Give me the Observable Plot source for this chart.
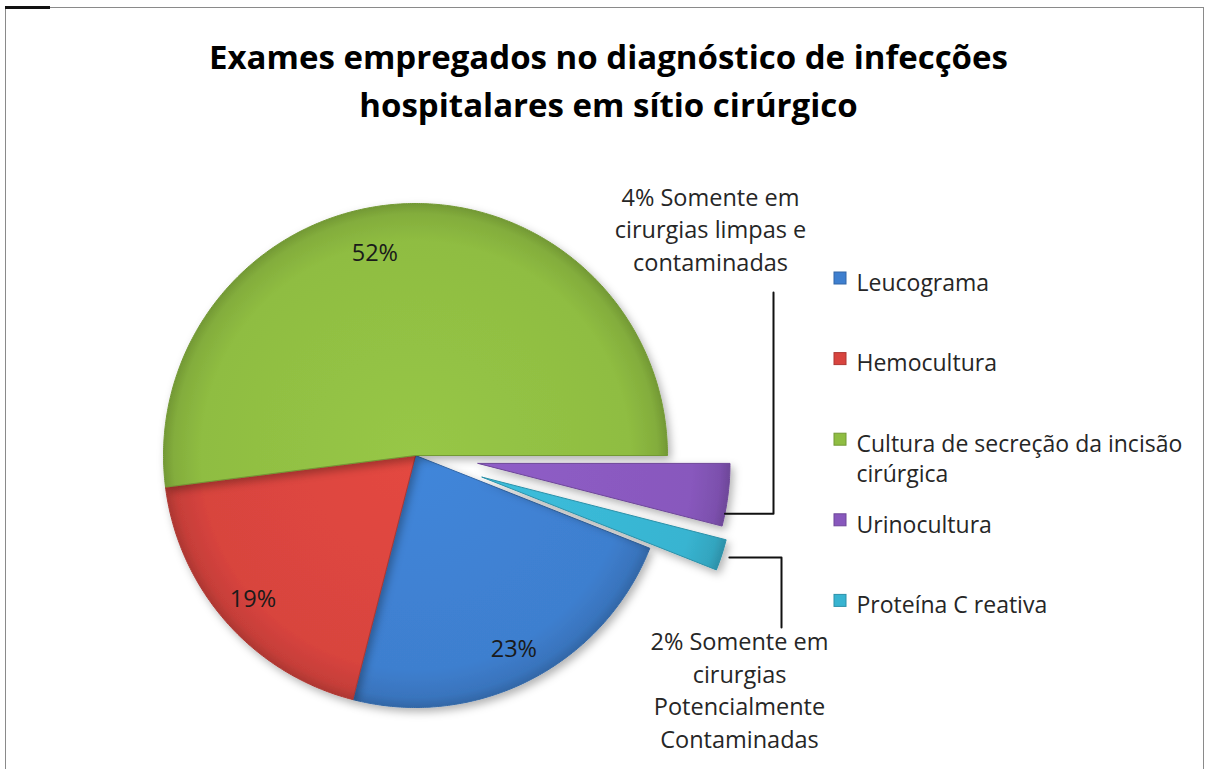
<!DOCTYPE html>
<html>
<head>
<meta charset="utf-8">
<script src="https://cdn.jsdelivr.net/npm/d3@7"></script>
<script src="https://cdn.jsdelivr.net/npm/@observablehq/plot@0.6"></script>
<style>
  body { margin: 0; background: #fff; }
  #wrap { position: relative; width: 1209px; height: 769px; overflow: hidden; font-family: "Open Sans", sans-serif; }
  #frame { position: absolute; left: 5px; top: 7px; width: 1197px; height: 800px; border: 1.5px solid #8a8a8a; pointer-events: none; }
  #tick { position: absolute; left: 5px; top: 6px; width: 45px; height: 3px; background: #111; pointer-events: none; }
</style>
</head>
<body>
<div id="wrap"><div id="frame"></div><div id="tick"></div></div>
<script>
// ---------------- data ----------------
const categories = ["Leucograma", "Hemocultura", "Cultura de secreção da incisão cirúrgica", "Urinocultura", "Proteína C reativa"];
const values = [23, 19, 52, 4, 2];
const legendLabels = ["Leucograma", "Hemocultura", "Cultura de secreção da incisão\ncirúrgica", "Urinocultura", "Proteína C reativa"];
const sliceLabels = ["23%", "19%", "52%", "4% Somente em\ncirurgias limpas e\ncontaminadas", "2% Somente em\ncirurgias\nPotencialmente\nContaminadas"];
const colors = ["#3e7fcf", "#d8443e", "#8fbd42", "#8858bd", "#38b4d1"];
const titleLines = ["Exames empregados no diagnóstico de infecções", "hospitalares em sítio cirúrgico"];

// ---------------- layout ----------------
const W = 1209, H = 769;
const CX = 415, CY = 455, R = 252;
const firstSliceAngle = 111.6;         // degrees, clockwise from 12 o'clock
const explode = [0, 0, 0, 63, 70];      // px outward
const labelRadius = 0.86;
const legendX = 834, legendTop = 278, legendStep = 80.6, legendBox = 12;
const FONT = "'Open Sans', sans-serif";

const rad = Math.PI / 180;
const arcs = d3.pie().sort(null)
  .startAngle(firstSliceAngle * rad)
  .endAngle(firstSliceAngle * rad + 2 * Math.PI)(values);

const slices = arcs.map((a, i) => {
  const mid = (a.startAngle + a.endAngle) / 2;
  const ax = CX + explode[i] * Math.sin(mid);
  const ay = CY - explode[i] * Math.cos(mid);
  const pts = [{x: ax, y: ay}];
  const n = Math.max(8, Math.ceil((a.endAngle - a.startAngle) / (0.5 * rad)));
  for (let k = 0; k <= n; k++) {
    const t = a.startAngle + (a.endAngle - a.startAngle) * k / n;
    pts.push({x: ax + R * Math.sin(t), y: ay - R * Math.cos(t)});
  }
  pts.push({x: ax, y: ay});
  return {i, name: categories[i], ax, ay, a0: a.startAngle, a1: a.endAngle, mid, pts};
});

// inner percentage labels (big slices)
const inner = slices.filter(s => explode[s.i] === 0).map(s => ({
  i: s.i,
  text: sliceLabels[s.i],
  x: s.ax + R * labelRadius * Math.sin(s.mid),
  y: s.ay - R * labelRadius * Math.cos(s.mid) + 8
}));

// callouts for exploded slices
const sU = slices[3], sP = slices[4];
const tU = sU.a0 + 0.8 * (sU.a1 - sU.a0);
const endU = {x: sU.ax + R * Math.sin(tU), y: sU.ay - R * Math.cos(tU)};
const endP = {x: sP.ax + (R + 8) * Math.sin(sP.mid), y: sP.ay - (R + 8) * Math.cos(sP.mid)};
const leaderU = [{x: 773, y: 292}, {x: 773, y: endU.y}, {x: endU.x, y: endU.y}];
const leaderP = [{x: endP.x, y: endP.y}, {x: 781, y: endP.y}, {x: 781, y: 627}];
const callouts = [
  {text: sliceLabels[3], x: 710, y: 270},
  {text: sliceLabels[4], x: 739, y: 747}
];

const legend = categories.map((c, i) => ({
  label: legendLabels[i], color: colors[i], cy: legendTop + i * legendStep
}));

const titles = titleLines.map((t, i) => ({t, x: 608, y: 68 + i * 48}));

const darker = c => d3.color(c).darker(0.6).formatHex();

const chart = Plot.plot({
  width: W, height: H,
  margin: 0,
  x: {domain: [0, W], range: [0, W], axis: null},
  y: {domain: [0, H], range: [0, H], axis: null},
  style: {fontFamily: FONT, background: "transparent"},
  marks: [
    ...slices.map(s => Plot.line(s.pts, {
      x: "x", y: "y",
      fill: `url(#grad${s.i})`,
      stroke: darker(colors[s.i]), strokeWidth: 1, strokeLinejoin: "round"
    })),
    Plot.text(inner.filter(d => d.i !== 2), {x: "x", y: "y", text: "text", fontSize: 23.5, fill: "#1a1a1a", textAnchor: "middle", lineAnchor: "bottom"}),
    Plot.text(inner.filter(d => d.i === 2), {x: "x", y: "y", dx: -27, dy: 14, text: "text", fontSize: 23.5, fill: "#1a1a1a", textAnchor: "middle", lineAnchor: "bottom"}),
    Plot.line(leaderU, {x: "x", y: "y", stroke: "#111", strokeWidth: 2}),
    Plot.line(leaderP, {x: "x", y: "y", stroke: "#111", strokeWidth: 2}),
    Plot.text(callouts, {x: "x", y: "y", text: "text", fontSize: 23.5, lineHeight: 1.38, fill: "#262626", textAnchor: "middle", lineAnchor: "bottom"}),
    Plot.rect(legend, {
      x1: () => legendX, x2: () => legendX + legendBox,
      y1: d => d.cy - legendBox / 2, y2: d => d.cy + legendBox / 2,
      fill: "color", stroke: d => darker(d.color), strokeWidth: 1
    }),
    Plot.text(legend, {x: () => legendX + 22, y: d => d.cy - 9, text: "label", fontSize: 23, lineHeight: 1.3, fill: "#262626", textAnchor: "start", lineAnchor: "top"}),
    Plot.text(titles, {x: "x", y: "y", text: "t", fontSize: 33, fontWeight: "bold", fill: "#000", textAnchor: "middle", lineAnchor: "bottom"})
  ]
});

// gradients + soft shadow for the pie slices
const sx = chart.scale("x"), sy = chart.scale("y");
const svg = d3.select(chart);
const defs = svg.insert("defs", ":first-child");
slices.forEach(s => {
  const c = d3.color(colors[s.i]);
  const g = defs.append("radialGradient").attr("id", `grad${s.i}`)
    .attr("gradientUnits", "userSpaceOnUse")
    .attr("cx", sx.apply(s.ax)).attr("cy", sy.apply(s.ay)).attr("r", R);
  g.append("stop").attr("offset", "0%").attr("stop-color", c.brighter(0.15).formatHex());
  g.append("stop").attr("offset", "85%").attr("stop-color", c.formatHex());
  g.append("stop").attr("offset", "96%").attr("stop-color", c.darker(0.25).formatHex());
  g.append("stop").attr("offset", "100%").attr("stop-color", c.darker(0.6).formatHex());
});
const f = defs.append("filter").attr("id", "shadow").attr("x", "-10%").attr("y", "-10%").attr("width", "130%").attr("height", "130%");
f.append("feDropShadow").attr("dx", 3).attr("dy", 4).attr("stdDeviation", 4).attr("flood-color", "#000").attr("flood-opacity", 0.3);
svg.selectAll("g[aria-label='line']").filter((d, i) => i < slices.length).attr("filter", "url(#shadow)");

document.getElementById("wrap").prepend(chart);
</script>
</body>
</html>
